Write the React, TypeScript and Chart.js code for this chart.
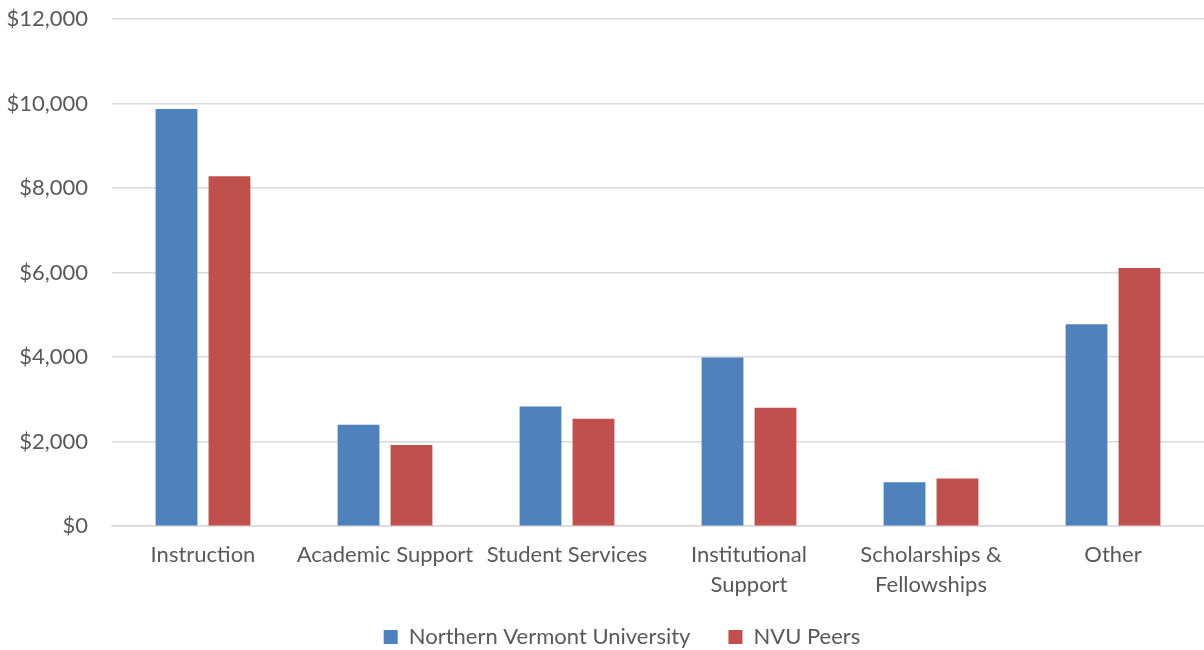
import React, { useEffect, useRef } from "react";
import { Chart, registerables } from "chart.js";

Chart.register(...registerables);

const categories: (string | string[])[] = [
  "Instruction",
  "Academic Support",
  "Student Services",
  ["Institutional", "Support"],
  ["Scholarships &", "Fellowships"],
  "Other",
];
const nvuValues = [9870, 2400, 2830, 3990, 1040, 4780];
const peerValues = [8280, 1920, 2540, 2800, 1130, 6110];
const seriesNames = ["Northern Vermont University", "NVU Peers"];
const yTicks = [0, 2000, 4000, 6000, 8000, 10000, 12000];

const FONT = "Lato, 'Noto Sans', sans-serif";
const TEXT = "#595959";
const LEGEND_PAD = 38;

const legendFix = {
  id: "legendFix",
  beforeLayout(chart: any) {
    const lg = chart.legend;
    if (lg && !lg._patched) {
      const orig = lg.fit.bind(lg);
      lg.fit = function () {
        orig();
        this.height = 36;
      };
      lg._patched = true;
    }
  },
  afterLayout(chart: any) {
    const lg = chart.legend;
    if (lg) {
      lg.top = 637 - LEGEND_PAD - 11;
      lg.left += 20;
      lg.right += 20;
    }
  },
};

export default function App() {
  const ref = useRef<HTMLCanvasElement | null>(null);
  useEffect(() => {
    document.body.style.margin = "0";
    const ctx = ref.current!;
    const chart = new Chart(ctx, {
      type: "bar",
      data: {
        labels: categories,
        datasets: [
          {
            label: seriesNames[0],
            data: nvuValues,
            backgroundColor: "#4F81BD",
            borderWidth: 0,
          },
          {
            label: seriesNames[1],
            data: peerValues,
            backgroundColor: "#C0504D",
            borderWidth: 0,
          },
        ],
      },
      plugins: [legendFix],
      options: {
        animation: false,
        responsive: false,
        maintainAspectRatio: false,
        layout: { padding: { top: 19, right: 0, left: 0, bottom: 0 } },
        datasets: {
          bar: { categoryPercentage: 0.582, barPercentage: 0.79 },
        },
        plugins: {
          tooltip: { enabled: false },
          legend: {
            position: "bottom",
            labels: {
              boxWidth: 14,
              boxHeight: 14,
              color: TEXT,
              font: { family: FONT, size: 22 },
              padding: LEGEND_PAD,
            },
          },
        },
        scales: {
          x: {
            grid: { display: false, drawTicks: false },
            border: { display: true, color: "#d9d9d9", width: 1.5 },
            ticks: {
              color: TEXT,
              font: { family: FONT, size: 22, lineHeight: 1.36 },
              padding: 14,
              maxRotation: 0,
              autoSkip: false,
            },
          },
          y: {
            min: 0,
            max: 12000,
            afterFit: (scale: any) => {
              scale.width = 112;
              scale.paddingTop = 0;
              scale.paddingBottom = 0;
            },
            afterBuildTicks: (scale: any) => {
              scale.ticks = yTicks.map((v) => ({ value: v }));
            },
            grid: { color: "#d9d9d9", lineWidth: 1.5, drawTicks: false },
            border: { display: false },
            ticks: {
              color: TEXT,
              font: { family: FONT, size: 22 },
              padding: 24,
              callback: (v: any) => "$" + Number(v).toLocaleString("en-US"),
            },
          },
        },
      },
    });
    return () => chart.destroy();
  }, []);
  return <canvas ref={ref} width={1204} height={650} style={{ display: "block" }} />;
}
